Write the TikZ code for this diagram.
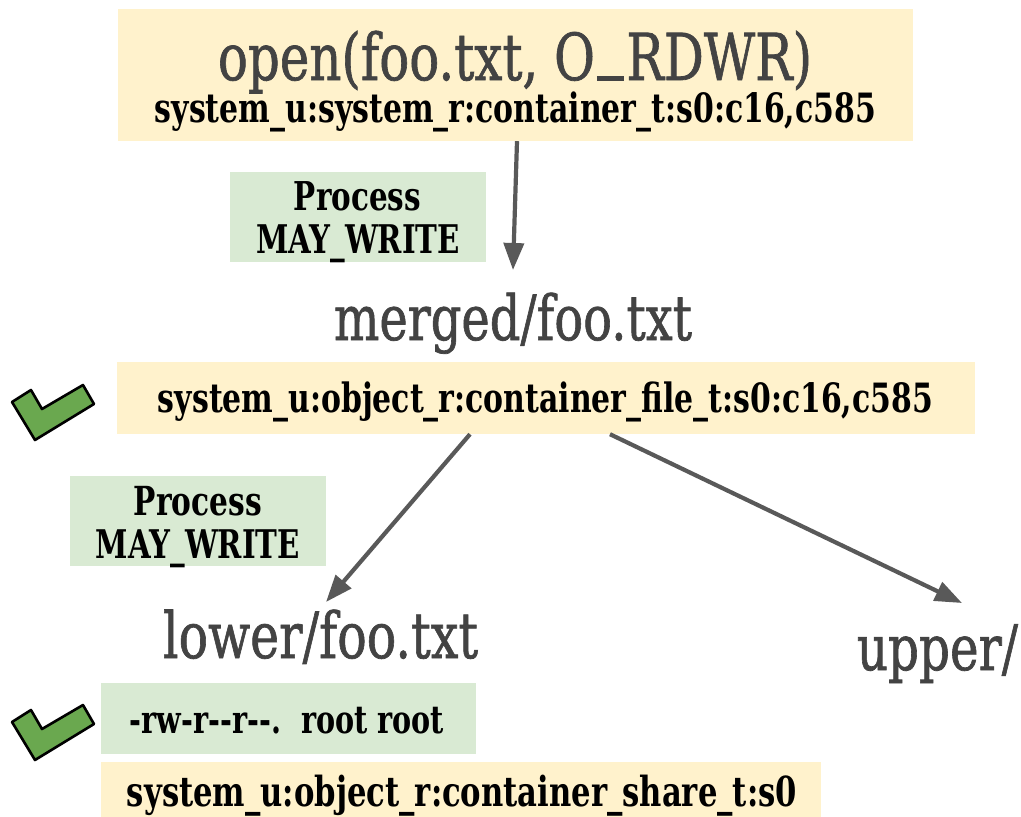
\documentclass[tikz,border=0pt]{standalone}
\usepackage{fontspec}
\usepackage{graphicx}
\setmainfont{DejaVu Serif}
\newfontfamily\titlefont{DejaVu Serif}[FakeBold=1.2]
\usetikzlibrary{arrows.meta}
\definecolor{boxyellow}{HTML}{FFF2CC}
\definecolor{boxgreen}{HTML}{D9EAD3}
\definecolor{titlegray}{HTML}{434343}
\definecolor{arrowgray}{HTML}{595959}
\definecolor{checkgreen}{HTML}{6AA84F}
\newcommand\fitw[3]{\resizebox{#1}{!}{\scalebox{1}[#2]{#3}}}
\newcommand\baseunder{\kern0.04em\rule[-0.02em]{0.55em}{0.075em}\kern0.04em}
\tikzset{
  yellowbox/.style={fill=boxyellow, draw=none},
  greenbox/.style={fill=boxgreen, draw=none},
  titletext/.style={anchor=base, inner sep=0pt, text=titlegray, font=\titlefont},
  labeltext/.style={anchor=base, inner sep=0pt, text=black, font=\bfseries},
  conn/.style={draw=arrowgray, line width=4.2pt, -{Triangle[length=27pt,width=20pt]}},
  checkmark/.style={fill=checkgreen, draw=black, line width=2.6pt, line join=round}
}
\begin{document}
\begin{tikzpicture}[x=1pt,y=-1pt]
\useasboundingbox (0,0) rectangle (1021,817);
% boxes
\path[yellowbox] (118,9) rectangle (913,141);
\node[inner sep=0pt, minimum width=795pt, minimum height=132pt] (box1) at (515.5,75) {};
\path[greenbox] (230,172) rectangle (486,262);
\path[yellowbox] (117,362) rectangle (975,434);
\node[inner sep=0pt, minimum width=858pt, minimum height=72pt] (box2) at (546,398) {};
\path[greenbox] (70,476) rectangle (326,566);
\path[greenbox] (101,683) rectangle (476,754);
\path[yellowbox] (101,762) rectangle (821,817);
% texts
\node[titletext] (title) at (515,80) {\fitw{594pt}{1.3}{open(foo.txt, O\baseunder RDWR)}};
\node[labeltext] (ctx1) at (515.5,122) {\fitw{721pt}{1.35}{system\_u:system\_r:container\_t:s0:c16,c585}};
\node[labeltext] (proc1) at (357.5,210) {\fitw{127pt}{1.35}{Process}};
\node[labeltext] (may1) at (358,253) {\fitw{204pt}{1.35}{MAY\_WRITE}};
\node[titletext] (merged) at (513,340) {\fitw{358pt}{1.3}{merged/foo.txt}};
\node[labeltext] (ctx2) at (545.5,412) {\fitw{775pt}{1.35}{system\_u:object\_r:container\_file\_t:s0:c16,c585}};
\node[labeltext] (proc2) at (198,515) {\fitw{128pt}{1.35}{Process}};
\node[labeltext] (may2) at (198,558) {\fitw{204pt}{1.35}{MAY\_WRITE}};
\node[titletext] (lower) at (320.5,658) {\fitw{315pt}{1.3}{lower/foo.txt}};
\node[titletext] (upper) at (937.5,670) {\fitw{161pt}{1.3}{upper/}};
\node[labeltext] (perm) at (287,733) {\fitw{314pt}{1.35}{-rw-r-{}-r-{}-.\ \ root root}};
\node[labeltext] (ctx3) at (462,806) {\fitw{670pt}{1.35}{system\_u:object\_r:container\_share\_t:s0}};
% arrow ends
\coordinate (e1) at (513,270);
\coordinate (e2) at (326,602);
\coordinate (e3) at (962,603);
\draw[conn] ([xshift=1.5pt]box1.south) -- (e1);
\draw[conn] ([xshift=-76pt]box2.south) -- (e2);
\draw[conn] ([xshift=64pt]box2.south) -- (e3);
% checkmarks
\path[checkmark] (12,402) -- (31,390) -- (42,409) -- (83,385) -- (94,404) -- (35,440) -- cycle;
\path[checkmark] (12,722) -- (31,710) -- (42,729) -- (83,705) -- (94,724) -- (35,760) -- cycle;
\end{tikzpicture}
\end{document}
